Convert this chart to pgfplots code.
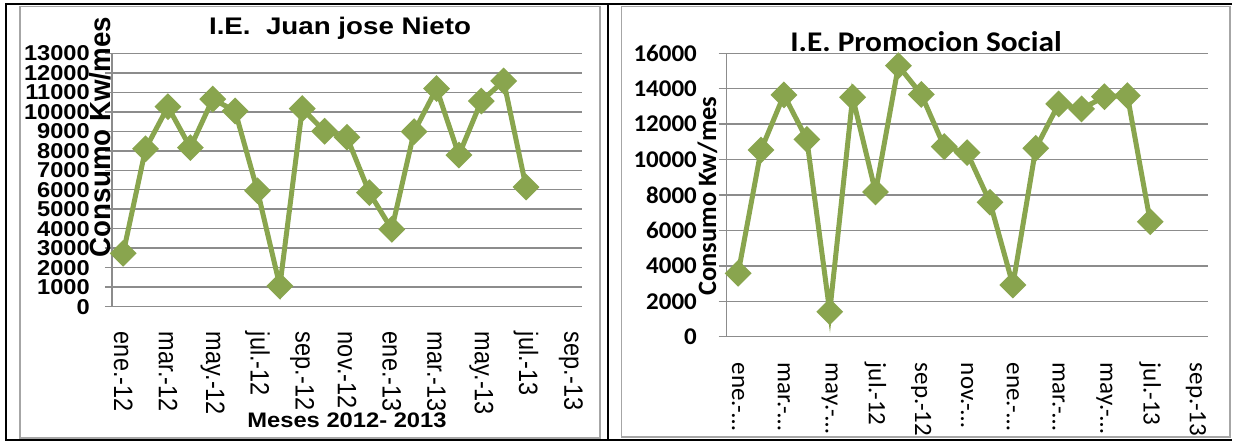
\documentclass[border=0pt]{standalone}
\usepackage{pgfplots}
\pgfplotsset{compat=1.18}
\usepackage{fontspec}
\setmainfont{Liberation Sans}
\newfontfamily\carlito{Carlito}
\definecolor{verde}{HTML}{89A54E}
\definecolor{rejilla}{HTML}{8C8C8C}
\definecolor{marco}{HTML}{A6A6A6}

\pgfplotsset{consumo/.style={
    scale only axis, anchor=south west, clip=false,
    xmin=-0.5, xmax=20.5, ymin=0,
    xtick={0,2,...,20},
    axis x line*=bottom, axis y line*=left,
    axis line style={draw=rejilla, line width=1.5pt, -},
    ymajorgrids, grid style={draw=rejilla, line width=1.5pt},
    tick align=outside,
    ytick style={draw=rejilla, line width=1.5pt},
    xtick style={draw=none},
    scaled y ticks=false,
    yticklabel style={/pgf/number format/.cd, fixed, precision=0, 1000 sep={},
      assume math mode=true, /tikz/.cd, anchor=east, inner sep=0pt},
    xticklabel style={yshift=-18pt, rotate=-90, anchor=west, inner sep=0pt},
  },
  serie/.style={verde, line width=5pt, mark=square*, mark size=7pt,
    mark options={rotate=45, solid}},
}

\begin{document}
\begin{tikzpicture}
\useasboundingbox (0,0) rectangle (1235pt,442pt);
% marcos de la tabla
\draw[black, line width=2pt] (1232pt,437.5pt) -- (5.5pt,437.5pt) -- (5.5pt,1.5pt) -- (1232pt,1.5pt);
\draw[black, line width=2pt] (608pt,437.5pt) -- (608pt,1.5pt);
\draw[marco, line width=1.5pt] (20pt,4pt) rectangle (600pt,435.5pt);
\draw[marco, line width=1.5pt] (621.7pt,5pt) rectangle (1230pt,435.5pt);

% I.E. Juan jose Nieto
\begin{axis}[consumo,
    at={(112pt,135.3pt)}, width=470pt, height=253.4pt,
    ymax=13000, ytick={0,1000,...,13000},
    major tick length=7pt,
    yticklabel style={xshift=-15pt, xscale=1.1, font=\fontsize{21.5}{21.5}\selectfont\bfseries},
    xticklabel style={yscale=1.13, font=\fontsize{23.5}{23.5}\selectfont},
    xticklabels={ene.-12,mar.-12,may.-12,jul.-12,sep.-12,nov.-12,ene.-13,mar.-13,may.-13,jul.-13,sep.-13},
  ]
  \addplot[serie] coordinates {
    (0,2740) (1,8100) (2,10260) (3,8160) (4,10650) (5,10040) (6,5950)
    (7,1060) (8,10160) (9,9000) (10,8690) (11,5850) (12,3970) (13,8980)
    (14,11190) (15,7780) (16,10550) (17,11580) (18,6140)
  };
\end{axis}
\node[anchor=base, xscale=1.155, font=\fontsize{24}{24}\selectfont\bfseries] at (340pt,407pt) {I.E.\ \ Juan jose Nieto};
\node[anchor=base, xscale=1.13, font=\fontsize{21}{21}\selectfont\bfseries] at (347pt,14pt) {Meses 2012- 2013};
\node[anchor=base, rotate=90, yscale=1.05, font=\fontsize{27.7}{27.7}\selectfont\bfseries] at (110.5pt,305pt) {Consumo Kw/mes};

% I.E. Promocion Social
\begin{axis}[consumo,
    at={(726.7pt,105.3pt)}, width=480.8pt, height=283.4pt,
    ymax=16000, ytick={0,2000,...,16000},
    major tick length=8pt,
    yticklabel style={xshift=-21.7pt, xscale=1.04, font=\carlito\fontsize{24}{24}\selectfont\bfseries},
    xticklabel style={font=\carlito\fontsize{25}{25}\selectfont},
    xticklabels={ene.-…,mar.-…,may.-…,jul.-12,sep.-12,nov.-…,ene.-…,mar.-…,may.-…,jul.-13,sep.-13},
  ]
  \addplot[serie] coordinates {
    (0,3580) (1,10540) (2,13650) (3,11140) (4,1410) (5,13520) (6,8170)
    (7,15300) (8,13680) (9,10730) (10,10390) (11,7590) (12,2920) (13,10640)
    (14,13140) (15,12860) (16,13550) (17,13610) (18,6490)
  };
\end{axis}
\node[anchor=base, xscale=1.1, font=\carlito\fontsize{28.5}{28.5}\selectfont\bfseries] at (926pt,390.3pt) {I.E. Promocion Social};
\node[anchor=base, rotate=90, font=\carlito\fontsize{26.5}{26.5}\selectfont\bfseries] at (716pt,246pt) {Consumo Kw/mes};
\end{tikzpicture}
\end{document}
